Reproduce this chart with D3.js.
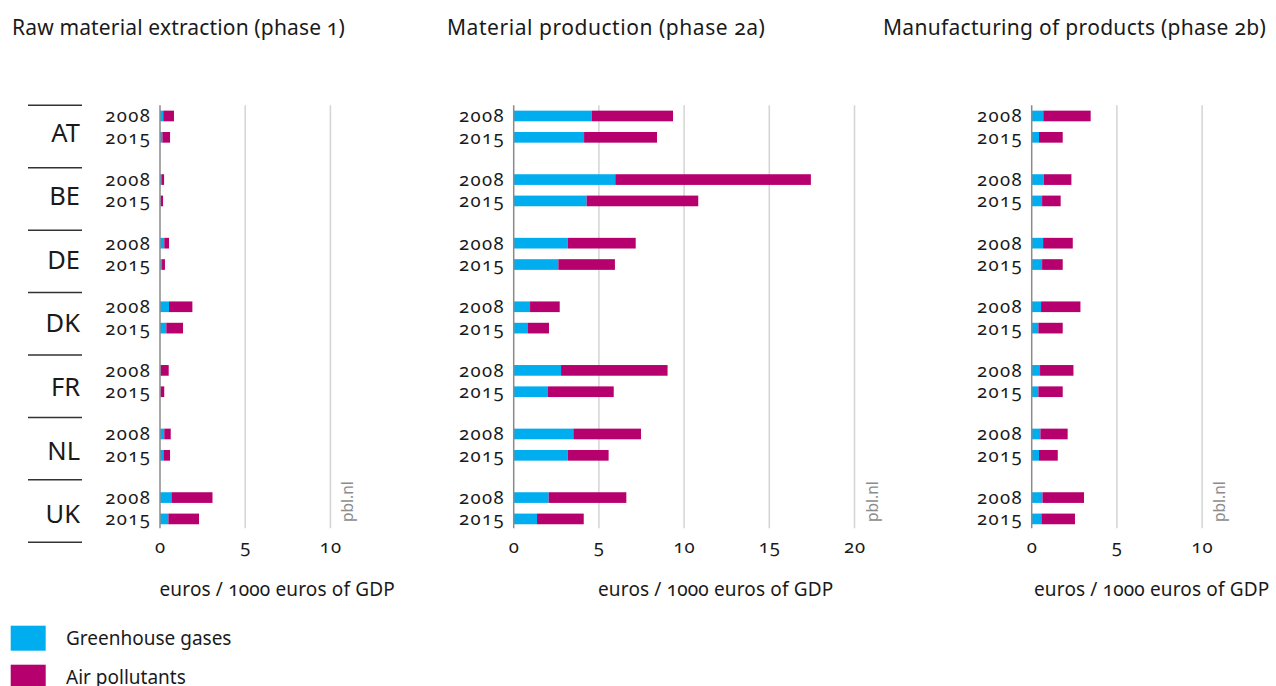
<!DOCTYPE html>
<html>
<head>
<meta charset="utf-8">
<script src="https://cdn.jsdelivr.net/npm/d3@7"></script>
<style>
  html, body { margin: 0; padding: 0; background: #fff; }
  svg { display: block; font-family: "Noto Sans", "Open Sans", sans-serif; font-variant-numeric: oldstyle-nums; font-feature-settings: "onum" 1; }
</style>
</head>
<body>
<svg id="chart" width="1276" height="686"></svg>
<script>
// ---------- data ----------
const countries = ["AT", "BE", "DE", "DK", "FR", "NL", "UK"];
const years = ["2008", "2015"];
const seriesNames = ["Greenhouse gases", "Air pollutants"];
const seriesColors = ["#00aeef", "#b5006e"];

const panelTitles = ["Raw material extraction (phase 1)", "Material production (phase 2a)", "Manufacturing of products (phase 2b)"];
const panelTicks = [[0, 5, 10], [0, 5, 10, 15, 20], [0, 5, 10]];
const axisTitle = "euros / 1000 euros of GDP";
const sourceLabel = "pbl.nl";

// values per country: [2008, 2015]
// Phase 1
const p1Greenhouse = [[0.19, 0.14], [0.08, 0.03], [0.25, 0.12], [0.53, 0.37], [0.03, 0.02], [0.25, 0.20], [0.67, 0.49]];
const p1Air        = [[0.63, 0.45], [0.16, 0.15], [0.28, 0.17], [1.37, 0.98], [0.48, 0.23], [0.38, 0.39], [2.41, 1.80]];
// Phase 2a
const p2aGreenhouse = [[4.59, 4.13], [5.96, 4.28], [3.17, 2.62], [0.96, 0.84], [2.78, 2.01], [3.50, 3.17], [2.05, 1.37]];
const p2aAir        = [[4.76, 4.28], [11.48, 6.55], [3.99, 3.32], [1.74, 1.23], [6.25, 3.86], [3.97, 2.40], [4.56, 2.74]];
// Phase 2b
const p2bGreenhouse = [[0.68, 0.43], [0.70, 0.61], [0.67, 0.61], [0.55, 0.39], [0.49, 0.39], [0.51, 0.43], [0.63, 0.57]];
const p2bAir        = [[2.78, 1.39], [1.63, 1.09], [1.74, 1.21], [2.31, 1.43], [1.96, 1.43], [1.60, 1.10], [2.44, 1.97]];

const panelData = [
  [p1Greenhouse, p1Air],
  [p2aGreenhouse, p2aAir],
  [p2bGreenhouse, p2bAir]
];

// ---------- layout ----------
const svg = d3.select("#chart");
const ink = "#1a1a1a";
const pxPerUnit = 17.04;
const panelX0 = [160, 513.7, 1031.7];
const titleX = [12, 447, 883];
const titleSpacing = [0.15, 0.55, 0.3];
const axisTitleX = [159.5, 598, 1034];

const yCountry = d3.scaleBand().domain(countries).range([95, 95 + 63.6 * countries.length]).paddingInner(0).paddingOuter(0);
const yYear = d3.scaleBand().domain(years).range([10.3, 53.0]).paddingInner(0.5).paddingOuter(0.25);
const gridTop = yCountry(countries[0]) + yYear.range()[0];
const gridBottom = yCountry(countries[countries.length - 1]) + yYear.range()[1] - 1.3;

// country separators (left)
const sepY = d3.scaleLinear().domain([0, countries.length]).range([105.3, 542.3]);
svg.append("g").selectAll("line").data(d3.range(countries.length + 1)).join("line")
  .attr("x1", 28).attr("x2", 82)
  .attr("y1", d => sepY(d)).attr("y2", d => sepY(d))
  .attr("stroke", "#333").attr("stroke-width", 1.5);

svg.append("g").selectAll("text").data(countries).join("text")
  .attr("x", 80).attr("y", d => yCountry(d) + 37 + 9.5)
  .attr("text-anchor", "end")
  .attr("font-size", 25.5).attr("fill", ink)
  .text(d => d);

panelData.forEach((pd, pi) => {
  const ticks = panelTicks[pi];
  const maxV = ticks[ticks.length - 1];
  const x = d3.scaleLinear().domain([0, maxV]).range([panelX0[pi], panelX0[pi] + pxPerUnit * maxV]);
  const g = svg.append("g");

  // title
  g.append("text").attr("x", titleX[pi]).attr("y", 35)
    .attr("font-size", 21).attr("letter-spacing", titleSpacing[pi]).attr("fill", ink).text(panelTitles[pi]);

  // gridlines
  g.append("g").selectAll("line").data(ticks.filter(t => t > 0)).join("line")
    .attr("x1", d => x(d)).attr("x2", d => x(d))
    .attr("y1", gridTop).attr("y2", gridBottom)
    .attr("stroke", "#d4d4d4").attr("stroke-width", 1.5);

  // bars
  const rows = [];
  countries.forEach((c, ci) => {
    years.forEach((yr, yi) => {
      let acc = 0;
      pd.forEach((series, si) => {
        const v = series[ci][yi];
        rows.push({ c, yr, si, x0: acc, x1: acc + v });
        acc += v;
      });
    });
  });
  g.append("g").selectAll("rect").data(rows).join("rect")
    .attr("x", d => x(d.x0))
    .attr("width", d => Math.max(0, x(d.x1) - x(d.x0)))
    .attr("y", d => yCountry(d.c) + yYear(d.yr))
    .attr("height", yYear.bandwidth())
    .attr("fill", d => seriesColors[d.si]);

  // zero axis line
  g.append("line")
    .attr("x1", x(0)).attr("x2", x(0))
    .attr("y1", gridTop).attr("y2", gridBottom)
    .attr("stroke", "#8a8a8a").attr("stroke-width", 1.5);

  // year labels
  const yl = [];
  countries.forEach(c => years.forEach(yr => yl.push({ c, yr })));
  g.append("g").selectAll("text").data(yl).join("text")
    .attr("x", x(0) - 8.6)
    .attr("y", d => yCountry(d.c) + yYear(d.yr) + yYear.bandwidth() / 2 + 6.5)
    .attr("text-anchor", "end")
    .attr("font-size", 18.5).attr("letter-spacing", 1.4).attr("fill", ink)
    .text(d => d.yr);

  // x axis tick labels
  const axis = d3.axisBottom(x).tickValues(ticks).tickSize(0).tickPadding(0).tickFormat(d3.format("d"));
  const ag = g.append("g").attr("transform", `translate(0, 540)`).call(axis);
  ag.select(".domain").remove();
  ag.selectAll("text").attr("font-size", 18.5).attr("letter-spacing", 1).attr("fill", ink)
    .attr("font-family", "'Noto Sans', 'Open Sans', sans-serif");

  // axis title
  g.append("text").attr("x", axisTitleX[pi]).attr("y", 596)
    .attr("font-size", 19).attr("letter-spacing", 0.15).attr("fill", ink).text(axisTitle);

  // source label
  g.append("text")
    .attr("transform", `translate(${x(maxV) + 23}, 522) rotate(-90)`)
    .attr("font-size", 15.5).attr("fill", "#8c8c8c").text(sourceLabel);
});

// legend
const lg = svg.append("g");
seriesNames.forEach((name, i) => {
  lg.append("rect").attr("x", 10.7).attr("y", 625.7 + i * 39).attr("width", 35).attr("height", 25)
    .attr("fill", seriesColors[i]);
  lg.append("text").attr("x", 66).attr("y", 645 + i * 39)
    .attr("font-size", 19).attr("fill", ink).text(name);
});
</script>
</body>
</html>
